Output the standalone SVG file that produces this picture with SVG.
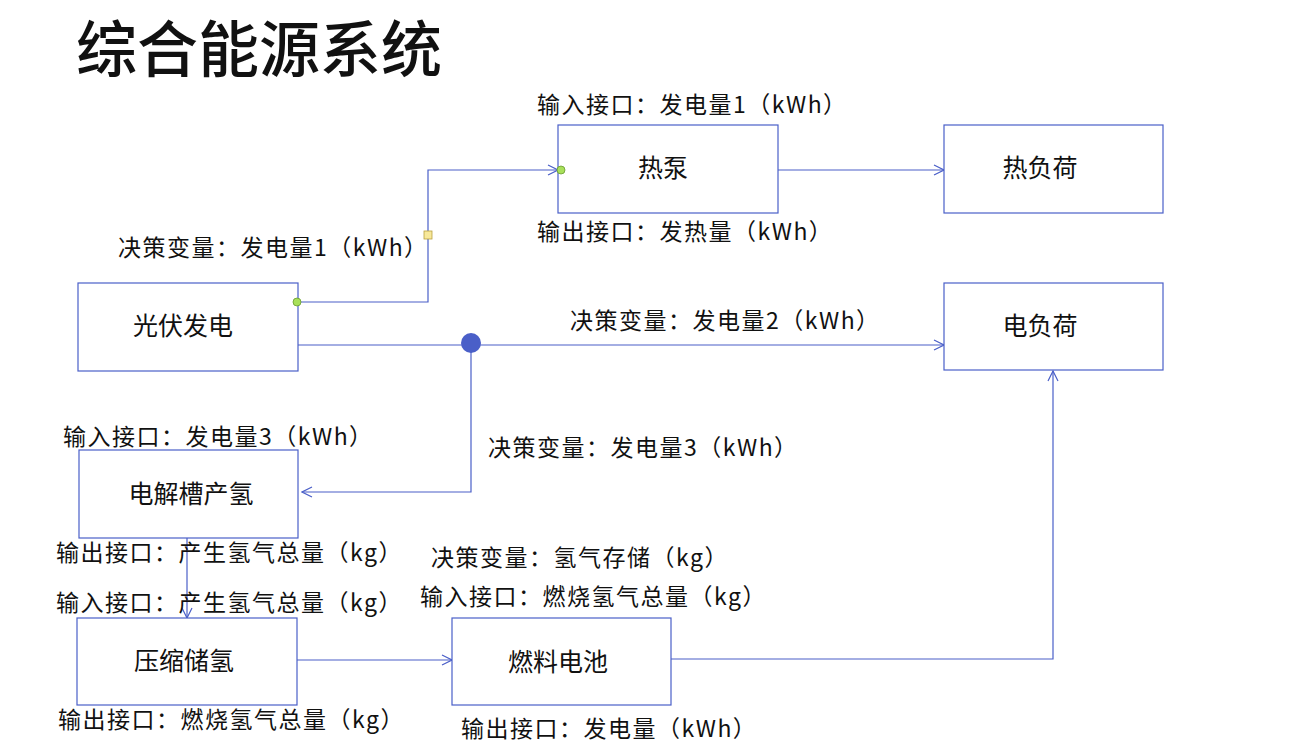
<svg xmlns="http://www.w3.org/2000/svg" width="1295" height="745" viewBox="0 0 1295 745">
  <style>
    .box { fill: #ffffff; stroke: #4a5fc8; stroke-width: 1.2; }
    .wire { fill: none; stroke: #4a5fc8; stroke-width: 1.2; }
    .t { font-family: "Noto Sans CJK SC", "Noto Sans", sans-serif; fill: #111111; }
    .lbl { font-size: 23px; letter-spacing: 1.5px; }
    .name { font-size: 25px; text-anchor: middle; }
    .title { font-size: 61px; font-weight: 500; }
  </style>
  <defs>
    <marker id="arrow" viewBox="0 0 12 12" refX="11" refY="6" markerWidth="12" markerHeight="12" markerUnits="userSpaceOnUse" orient="auto">
      <path d="M1,1 L11,6 L1,11" fill="none" stroke="#4a5fc8" stroke-width="1.2"/>
    </marker>
  </defs>

  <rect width="1295" height="745" fill="#ffffff"/>

  <text class="t title" x="76" y="72">综合能源系统</text>

  <!-- connectors -->
  <g id="connectors">
    <path class="wire" d="M297,302 H428 V170 H558" marker-end="url(#arrow)"/>
    <path class="wire" d="M778,170 H944" marker-end="url(#arrow)"/>
    <path class="wire" d="M298,345 H944" marker-end="url(#arrow)"/>
    <path class="wire" d="M471,343 V492 H302" marker-end="url(#arrow)"/>
    <path class="wire" d="M187,538 V618" marker-end="url(#arrow)"/>
    <path class="wire" d="M297,660 H452" marker-end="url(#arrow)"/>
    <path class="wire" d="M671,659 H1053 V371" marker-end="url(#arrow)"/>
  </g>

  <g id="heat-pump">
    <rect class="box" x="558" y="125" width="220" height="88"/>
    <text class="t name" x="663" y="177">热泵</text>
    <text class="t lbl" x="537" y="113">输入接口：发电量1（kWh）</text>
    <text class="t lbl" x="537" y="240">输出接口：发热量（kWh）</text>
  </g>

  <g id="heat-load">
    <rect class="box" x="944" y="125" width="219" height="88"/>
    <text class="t name" x="1040" y="177">热负荷</text>
  </g>

  <g id="pv">
    <rect class="box" x="78" y="283" width="220" height="88"/>
    <text class="t name" x="183" y="335">光伏发电</text>
    <text class="t lbl" x="118" y="256">决策变量：发电量1（kWh）</text>
  </g>

  <g id="power-load">
    <rect class="box" x="944" y="283" width="219" height="87"/>
    <text class="t name" x="1040" y="335">电负荷</text>
    <text class="t lbl" x="570" y="329">决策变量：发电量2（kWh）</text>
  </g>

  <g id="electrolyzer">
    <rect class="box" x="79" y="450" width="219" height="88"/>
    <text class="t name" x="191" y="503">电解槽产氢</text>
    <text class="t lbl" x="63" y="445">输入接口：发电量3（kWh）</text>
    <text class="t lbl" x="488" y="456">决策变量：发电量3（kWh）</text>
    <text class="t lbl" x="56" y="561">输出接口：产生氢气总量（kg）</text>
  </g>

  <g id="storage">
    <rect class="box" x="77" y="618" width="220" height="87"/>
    <text class="t name" x="184" y="670">压缩储氢</text>
    <text class="t lbl" x="56" y="611">输入接口：产生氢气总量（kg）</text>
    <text class="t lbl" x="431" y="566">决策变量：氢气存储（kg）</text>
    <text class="t lbl" x="58" y="728">输出接口：燃烧氢气总量（kg）</text>
  </g>

  <g id="fuel-cell">
    <rect class="box" x="452" y="618" width="219" height="87"/>
    <text class="t name" x="558" y="671">燃料电池</text>
    <text class="t lbl" x="420" y="605">输入接口：燃烧氢气总量（kg）</text>
    <text class="t lbl" x="461" y="737">输出接口：发电量（kWh）</text>
  </g>

  <!-- connection points and junction -->
  <g id="handles">
    <circle cx="297" cy="302" r="4" fill="#a8e05a" stroke="#6a9a30" stroke-width="0.8"/>
    <circle cx="561" cy="170" r="4" fill="#a8e05a" stroke="#6a9a30" stroke-width="0.8"/>
    <rect x="424" y="231" width="8" height="8" fill="#f7e89a" stroke="#b8a040" stroke-width="0.8"/>
    <circle cx="471" cy="343" r="10" fill="#4a5fc8"/>
  </g>
</svg>
